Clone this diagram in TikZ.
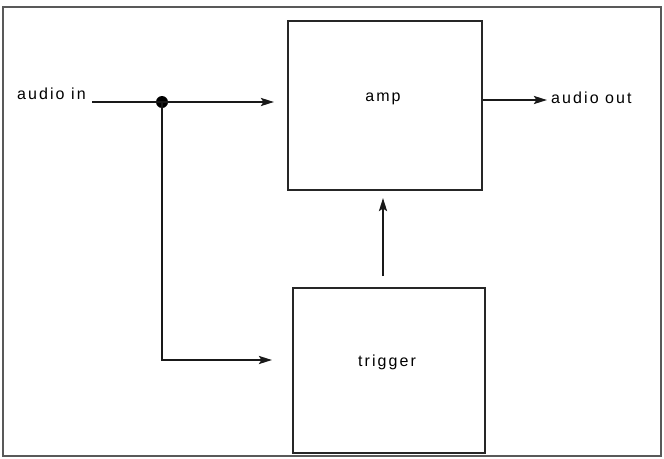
\documentclass[tikz,border=0pt]{standalone}
\usepackage{fontspec}
\setmainfont{Liberation Sans}[LetterSpace=13]
\usetikzlibrary{arrows.meta,calc}
\begin{document}
\begin{tikzpicture}[x=1pt,y=-1pt,
  font=\fontsize{16}{19}\selectfont,
  blockbox/.style={draw=black!85,line width=2pt,minimum width=194pt,minimum height=169pt,inner sep=0pt},
  wire/.style={draw=black!90,line width=2.3pt},
  arr/.style={wire,-{Stealth[length=13pt,width=8pt,inset=2.5pt]}},
  lbl/.style={inner sep=0pt}]
\useasboundingbox (0,0) rectangle (664,458);
\draw[black!65,line width=1.2pt] (3,7) rectangle (661,456);
% blocks
\node[blockbox] (amp) at (385,105.5) {};
\node[blockbox,minimum width=192pt,minimum height=165pt] (trigger) at (389,370.5) {};
\node[lbl,anchor=base] (amplabel) at (383,101) {amp};
\node[lbl,anchor=base] (triglabel) at (387,366) {trigger};
% labels
\node[lbl,anchor=base west] (ain) at (17,99) {audio in};
\node[lbl,anchor=base west] (aout) at (551,103) {audio out};
% junction
\node[circle,fill=black,inner sep=0pt,minimum size=12pt] (j) at (162,102) {};
\coordinate (ainstart) at (92,102);
\coordinate (trigin) at (293,360);
% connectors
\draw[wire] (ainstart) -- (j.center);
\draw[arr,shorten >=13pt] (j.center) -- (amp.west |- j.center);
\draw[arr,shorten >=21pt] (j.center) |- (trigin);
\draw[arr,shorten <=11pt,shorten >=7pt] (trigger.north -| 383,0) -- (amp.south -| 383,0);
\draw[arr,shorten >=4pt] (amp.east |- 0,100) -- (aout.west |- 0,100);
\end{tikzpicture}
\end{document}
